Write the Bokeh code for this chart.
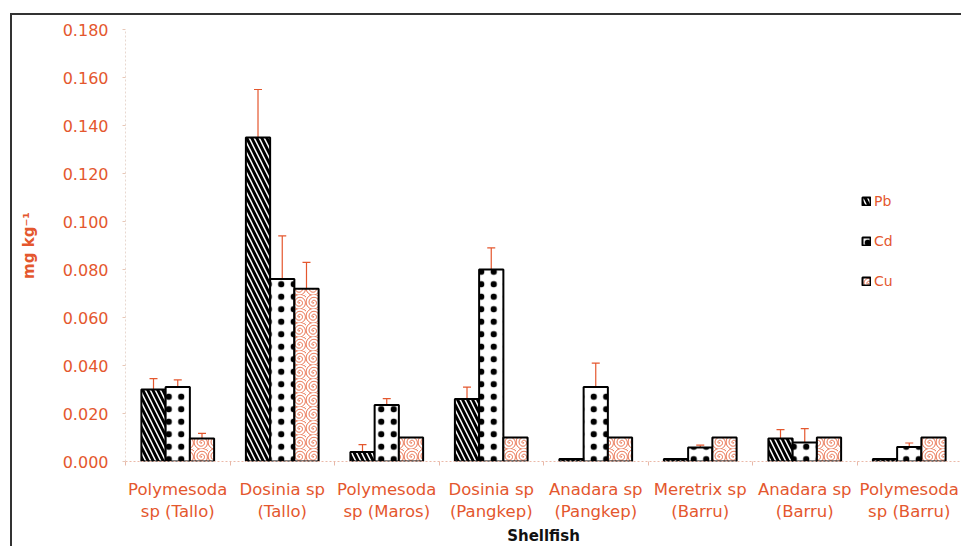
from bokeh.plotting import figure
from bokeh.models import Range1d, FixedTicker, Whisker, ColumnDataSource, Legend, LegendItem, TeeHead
from bokeh.embed import file_html
from bokeh.resources import INLINE

categories = ["Polymesoda\nsp (Tallo)", "Dosinia sp\n(Tallo)", "Polymesoda\nsp (Maros)",
              "Dosinia sp\n(Pangkep)", "Anadara sp\n(Pangkep)", "Meretrix sp\n(Barru)",
              "Anadara sp\n(Barru)", "Polymesoda\nsp (Barru)"]
series = ["Pb", "Cd", "Cu"]
pb = [0.030, 0.135, 0.004, 0.026, 0.001, 0.001, 0.0096, 0.001]
pb_sd = [0.0045, 0.020, 0.003, 0.005, 0.0, 0.0, 0.0037, 0.0]
cd = [0.031, 0.076, 0.0235, 0.080, 0.031, 0.0058, 0.0079, 0.006]
cd_sd = [0.003, 0.018, 0.0027, 0.009, 0.010, 0.001, 0.0058, 0.0017]
cu = [0.0096, 0.072, 0.010, 0.010, 0.010, 0.010, 0.010, 0.010]
cu_sd = [0.0021, 0.011, 0.0, 0.0, 0.0, 0.0, 0.0, 0.0]
y_ticks = [0.0, 0.02, 0.04, 0.06, 0.08, 0.10, 0.12, 0.14, 0.16, 0.18]

ORANGE = "#e4572e"
FONT = "DejaVu Sans"

p = figure(frame_width=836, frame_height=432, output_backend="svg", toolbar_location=None,
           x_range=Range1d(0, 8), y_range=Range1d(0, 0.18),
           min_border_left=113, min_border_right=0, min_border_top=14, min_border_bottom=80)
p.styles = {"border-top": "2px solid #333", "border-left": "2px solid #333",
            "margin-top": "13px", "margin-left": "10px"}
p.outline_line_color = None
p.xgrid.grid_line_color = None
p.ygrid.grid_line_color = None

bw = 0.232
offsets = [-bw, 0.0, bw]
vals = [pb, cd, cu]
sds = [pb_sd, cd_sd, cu_sd]
hatches = [dict(hatch_pattern="\\", hatch_color="black", hatch_scale=10, hatch_weight=3),
           dict(hatch_pattern=".", hatch_color="black", hatch_scale=12.5, hatch_weight=1),
           dict(hatch_pattern="@", hatch_color=ORANGE, hatch_scale=14, hatch_weight=1)]
renderers = []
for k in range(3):
    xs = [i + 0.5 + offsets[k] for i in range(len(categories))]
    src = ColumnDataSource(dict(x=xs, top=vals[k],
                                upper=[v + s for v, s in zip(vals[k], sds[k])],
                                lower=vals[k]))
    r = p.vbar(x="x", top="top", bottom=0, width=bw, source=src, fill_color="white",
               line_color="black", line_width=2, **hatches[k])
    renderers.append(r)
    w = Whisker(base="x", upper="upper", lower="lower", source=src, line_color=ORANGE,
                line_width=1.2, lower_head=None,
                upper_head=TeeHead(size=8, line_color=ORANGE, line_width=1.2))
    p.add_layout(w)

legend = Legend(items=[LegendItem(label=s, renderers=[r]) for s, r in zip(series, renderers)],
                location=(736, 172), background_fill_alpha=0, border_line_alpha=0,
                label_text_color=ORANGE, label_text_font=FONT, label_text_font_size="14px",
                glyph_width=10, glyph_height=10, spacing=24, label_standoff=3, padding=0, margin=0)
p.add_layout(legend)

p.xaxis.ticker = FixedTicker(ticks=[i + 0.5 for i in range(len(categories))],
                             minor_ticks=list(range(len(categories) + 1)))
p.xaxis.major_label_overrides = {i + 0.5: c for i, c in enumerate(categories)}
p.xaxis.major_tick_line_color = None
p.xaxis.minor_tick_line_color = "#e8b8a8"
p.xaxis.minor_tick_out = 4
p.xaxis.minor_tick_in = 0
p.xaxis.axis_line_color = "#eab9a8"
p.xaxis.axis_line_dash = "2 2"
p.xaxis.major_label_text_color = ORANGE
p.xaxis.major_label_text_font = FONT
p.xaxis.major_label_text_font_size = "16.5px"
p.xaxis.major_label_standoff = 12
p.xaxis.axis_label = "Shellfish"
p.xaxis.axis_label_text_font = FONT
p.xaxis.axis_label_text_font_style = "bold"
p.xaxis.axis_label_text_font_size = "15px"
p.xaxis.axis_label_text_color = "#111111"
p.xaxis.axis_label_standoff = 3

p.yaxis.ticker = FixedTicker(ticks=y_ticks)
p.yaxis.major_label_overrides = {t: f"{t:.3f}" for t in y_ticks}
p.yaxis.axis_line_color = "#e8d8d0"
p.yaxis.axis_line_dash = "2 2"
p.yaxis.major_tick_line_color = "#e8c8b8"
p.yaxis.major_tick_out = 3
p.yaxis.major_tick_in = 0
p.yaxis.minor_tick_line_color = None
p.yaxis.major_label_text_color = ORANGE
p.yaxis.major_label_text_font = FONT
p.yaxis.major_label_text_font_size = "16px"
p.yaxis.major_label_standoff = 14
p.yaxis.axis_label = "mg kg\u207b\u00b9"
p.yaxis.axis_label_text_font = FONT
p.yaxis.axis_label_text_font_style = "bold"
p.yaxis.axis_label_text_font_size = "15px"
p.yaxis.axis_label_text_color = ORANGE
p.yaxis.axis_label_standoff = 22

open("out.html", "w").write(file_html(p, INLINE))
